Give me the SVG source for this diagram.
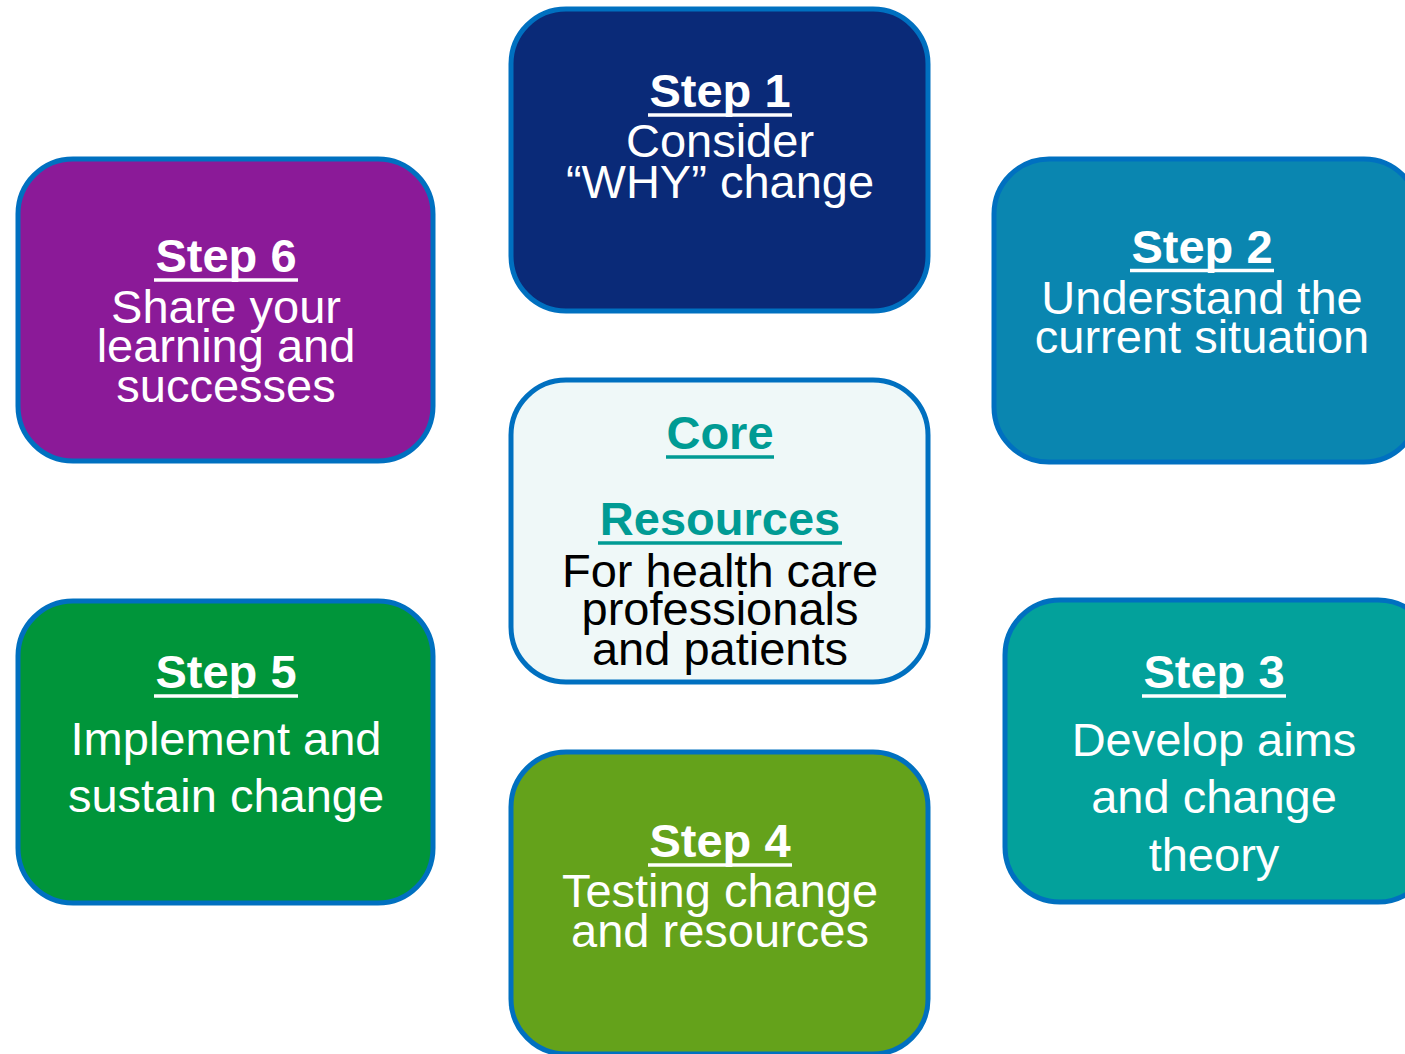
<svg xmlns="http://www.w3.org/2000/svg" width="1405" height="1054" viewBox="0 0 1405 1054">
<style>
.box{stroke:#0070C0;stroke-width:5}
text{font-family:"Liberation Sans",Arial,sans-serif;font-size:47px;text-anchor:middle;fill:#fff}
.h{font-weight:bold}
.ul{stroke:#fff;stroke-width:3.5}
.core{fill:#009B94}
.ulc{stroke:#009B94;stroke-width:3.5}
.dark{fill:#000}
</style>
<rect width="1405" height="1054" fill="#fff"/>
<g id="connectors"/>
<g id="step1">
<rect class="box" x="511" y="9" width="417" height="302" rx="55" fill="#0A2A78"/>
<text class="h" x="720" y="107">Step 1</text>
<line class="ul" x1="648" y1="115" x2="792" y2="115"/>
<text x="720" y="157">Consider</text>
<text x="720" y="198">“WHY” change</text>
</g>
<g id="step2">
<rect class="box" x="994" y="159" width="425" height="303" rx="55" fill="#0A86B0"/>
<text class="h" x="1202" y="263">Step 2</text>
<line class="ul" x1="1130" y1="270.5" x2="1274" y2="270.5"/>
<text x="1202" y="314">Understand the</text>
<text x="1202" y="353">current situation</text>
</g>
<g id="step6">
<rect class="box" x="18" y="159" width="415" height="302" rx="55" fill="#8B1A98"/>
<text class="h" x="226" y="272">Step 6</text>
<line class="ul" x1="154" y1="280" x2="298" y2="280"/>
<text x="226" y="323">Share your</text>
<text x="226" y="362">learning and</text>
<text x="226" y="402">successes</text>
</g>
<g id="core">
<rect class="box" x="511" y="380" width="417" height="302" rx="55" fill="#EFF8F8"/>
<text class="h core" x="720" y="449">Core</text>
<line class="ulc" x1="666" y1="457" x2="774" y2="457"/>
<text class="h core" x="720" y="535">Resources</text>
<line class="ulc" x1="598" y1="543" x2="842" y2="543"/>
<text class="dark" x="720" y="587">For health care</text>
<text class="dark" x="720" y="625">professionals</text>
<text class="dark" x="720" y="665">and patients</text>
</g>
<g id="step5">
<rect class="box" x="18" y="601" width="415" height="302" rx="55" fill="#00953A"/>
<text class="h" x="226" y="688">Step 5</text>
<line class="ul" x1="154" y1="696" x2="298" y2="696"/>
<text x="226" y="755">Implement and</text>
<text x="226" y="812">sustain change</text>
</g>
<g id="step4">
<rect class="box" x="511" y="752" width="417" height="302" rx="55" fill="#64A21B"/>
<text class="h" x="720" y="857">Step 4</text>
<line class="ul" x1="648" y1="865" x2="792" y2="865"/>
<text x="720" y="907">Testing change</text>
<text x="720" y="947">and resources</text>
</g>
<g id="step3">
<rect class="box" x="1005" y="600" width="428" height="302" rx="55" fill="#03A19B"/>
<text class="h" x="1214" y="688">Step 3</text>
<line class="ul" x1="1142" y1="696" x2="1286" y2="696"/>
<text x="1214" y="756">Develop aims</text>
<text x="1214" y="813">and change</text>
<text x="1214" y="871">theory</text>
</g>
</svg>
